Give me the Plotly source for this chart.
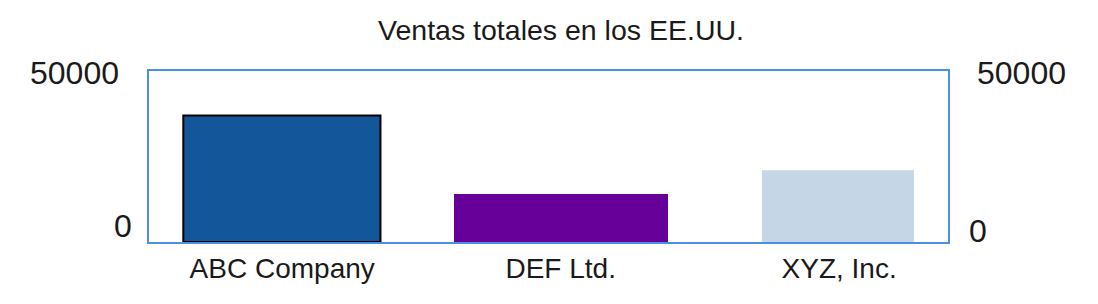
import plotly.graph_objects as go

# data
companies = ["ABC Company", "DEF Ltd.", "XYZ, Inc."]
sales = [37000, 14000, 21000]
y_ticks = [0, 50000]
title_text = "Ventas totales en los EE.UU."

FONT = "Liberation Sans, Arial, Helvetica, sans-serif"
colors = ["#13569A", "#660099", "#C5D6E6"]
bar_widths = [0.708, 0.7684, 0.5458]
bar_offsets = [-0.355, -0.383, -0.2771]

fig = go.Figure()
fig.add_trace(go.Bar(
    x=companies, y=sales,
    width=bar_widths, offset=bar_offsets,
    marker=dict(color=colors, line=dict(color=["#000000", "rgba(0,0,0,0)", "rgba(0,0,0,0)"], width=[2, 0, 0])),
    hoverinfo="x+y",
))

# y tick labels (left and right) positioned on the y scale
left_shift = [(123, 16), (74, -1.5)]
right_shift = [(978, 11), (1021.5, -1.5)]
for val, (cx, ys) in zip(y_ticks, left_shift):
    fig.add_annotation(x=0, xref="paper", xshift=cx - 149, y=val, yref="y", yshift=ys,
                       text=str(val), showarrow=False, xanchor="center", yanchor="middle",
                       font=dict(family=FONT, size=32, color="#1a1a1a"))
for val, (cx, ys) in zip(y_ticks, right_shift):
    fig.add_annotation(x=1, xref="paper", xshift=cx - 948, y=val, yref="y", yshift=ys,
                       text=str(val), showarrow=False, xanchor="center", yanchor="middle",
                       font=dict(family=FONT, size=32, color="#1a1a1a"))

fig.update_layout(
    width=1098, height=304,
    margin=dict(l=149, r=150, t=71, b=62),
    paper_bgcolor="white", plot_bgcolor="white",
    showlegend=False,
    title=dict(text=title_text, x=561 / 1098, xanchor="center", xref="container",
               y=1 - 30 / 304, yanchor="middle", yref="container",
               font=dict(family=FONT, size=28.5, color="#1a1a1a")),
    font=dict(family=FONT, color="#1a1a1a"),
    xaxis=dict(type="category", range=[-0.4782, 2.3908], showline=True, mirror=True,
               linecolor="#4A90E2", linewidth=2, showgrid=False, zeroline=False,
               ticks="", tickfont=dict(family=FONT, size=28, color="#1a1a1a")),
    yaxis=dict(range=[0, 50000], showline=True, mirror=True, linecolor="#4A90E2",
               linewidth=2, showgrid=False, zeroline=False, showticklabels=False, ticks=""),
)

fig.write_html("out.html")
